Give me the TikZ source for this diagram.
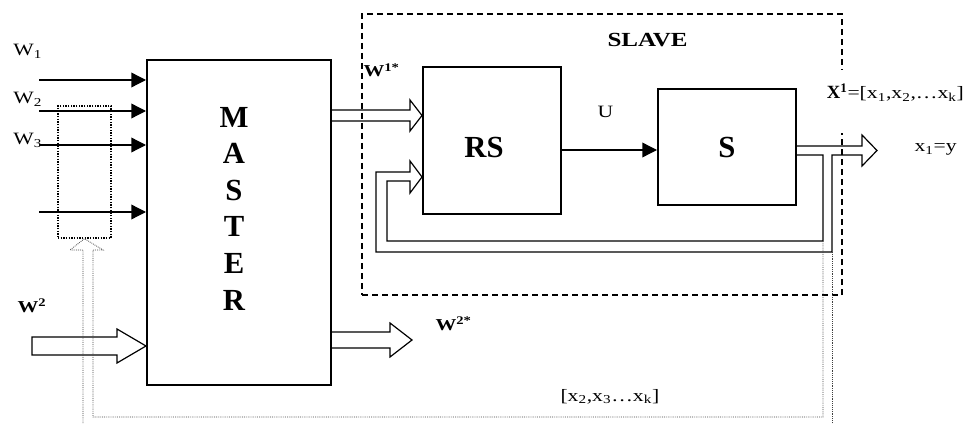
\documentclass[tikz,border=0pt]{standalone}
\usepackage{fontspec}
\setmainfont{Liberation Serif}
\newfontfamily\widefont[FakeStretch=1.25]{Liberation Serif}
\usetikzlibrary{arrows.meta}
\newcommand\blockfont{\fontsize{23}{26}\selectfont\bfseries}
\newcommand\labelfont{\fontsize{12.5}{15}\selectfont\widefont\bfseries}
\newcommand\sigfont{\fontsize{13}{15}\selectfont\widefont}
\tikzset{every picture/.style={line width=0.75pt}}

\begin{document}
\begin{tikzpicture}[x=0.75pt,y=0.75pt,yscale=-1,xscale=1,
  blockbox/.style={draw, line width=1.5pt, inner sep=0pt},
  inarrow/.style={line width=1pt, -{Triangle[length=11pt,width=11pt]}},
  hollowarrow/.style={line width=0.9pt, line join=miter},
  fbdots/.style={line width=0.6pt, dash pattern=on 0.6pt off 0.8pt, color=black!75}]
\path[use as bounding box] (0,0) rectangle (964,424);
%Shape: Rectangle (slave)
\node[draw, line width=1pt, dash pattern=on 4.5pt off 3pt, minimum width=360pt, minimum height=210.75pt] (slave) at (602,154.5) {};
%Shape: Rectangle (master)
\node[blockbox, minimum width=138pt, minimum height=243.75pt] (master) at (239,222.5) {};
%Shape: Rectangle (rs)
\node[blockbox, minimum width=103.5pt, minimum height=110.25pt] (rs) at (492,140.5) {};
%Shape: Rectangle (s)
\node[blockbox, minimum width=103.5pt, minimum height=87pt, font=\blockfont] (s) at (727,147) {S};
%Shape: Rectangle (window)
\node[draw, line width=1pt, densely dotted, minimum width=39.75pt, minimum height=99pt] (window) at (84.5,172) {};
% Text Node
\foreach \ch [count=\i] in {M,A,S,T,E,R}
  \node[font=\blockfont, inner sep=0pt] (master\i) at (234,80.5+36.6*\i) {\ch};
% Text Node
\node[font=\blockfont, inner sep=0pt] (rslabel) at (484,147) {RS};
%Straight Lines (inputs)
\coordinate (w1in) at (39,80);
\coordinate (w2in) at (39,111);
\coordinate (w3in) at (39,145);
\coordinate (w4in) at (39,212);
\draw[inarrow] (w1in) -- (w1in -| master.west);
\draw[inarrow] (w2in) -- (w2in -| master.west);
\draw[inarrow] (w3in) -- (w3in -| master.west);
\draw[inarrow] (w4in) -- (w4in -| master.west);
%Straight Lines (U)
\draw[inarrow] (rs.east |- 0,150) -- (s.west |- 0,150);
%Shape: Right Arrow (W2 in)
\draw[hollowarrow] (32,337) -- (117,337) -- (117,329) -- (master.west |- 0,346) -- (117,363) -- (117,355) -- (32,355) -- cycle;
%Shape: Right Arrow (W1* to RS)
\draw[hollowarrow] (master.east |- 0,110) -- (410,110) -- (410,100) -- (rs.west |- 0,115.5) -- (410,131) -- (410,121) -- (master.east |- 0,121);
%Shape: Right Arrow (W2* out)
\coordinate (w2out) at (412,340);
\draw[hollowarrow] (master.east |- 0,332) -- (390,332) -- (390,323) -- (w2out) -- (390,357) -- (390,348) -- (master.east |- 0,348);
%Shape: Right Arrow (S out and feedback to RS)
\coordinate (yout) at (877,150.5);
\draw[hollowarrow] (s.east |- 0,146) -- (862,146) -- (862,135) -- (yout) -- (862,166) -- (862,155) -- (832,155) -- (832,252) -- (376,252) -- (376,172) -- (410,172) -- (410,161) -- (rs.west |- 0,177) -- (410,193) -- (410,181) -- (387,181) -- (387,241) -- (823,241) -- (823,155) -- (s.east |- 0,155);
%Curve Lines (x2..xk back to window)
\draw[fbdots] (823,241) -- (823,417) -- (93,417) -- (93,250) -- (103,250) -- (window.south) -- (70,250) -- (83,250) -- (83,424);
\draw[fbdots] (832,252) -- (832,424);
% Text Node
\node[font=\sigfont, anchor=base west, inner sep=0pt] (w1label) at (13,56) {W\textsubscript{1}};
% Text Node
\node[font=\sigfont, anchor=base west, inner sep=0pt] (w2label) at (13,104) {W\textsubscript{2}};
% Text Node
\node[font=\sigfont, anchor=base west, inner sep=0pt] (w3label) at (13,145) {W\textsubscript{3}};
% Text Node
\node[font=\labelfont, anchor=base west, inner sep=0pt] (wtwo) at (17,312) {W\textsuperscript{2}};
% Text Node
\node[font=\labelfont, anchor=base west, inner sep=0pt] (wonestar) at (363,77) {W\textsuperscript{1*}};
% Text Node
\node[font=\labelfont, anchor=base west, inner sep=0pt] (wtwostar) at (435,330) {W\textsuperscript{2*}};
% Text Node
\node[font=\fontsize{15}{17}\selectfont\widefont\bfseries, anchor=base west, inner sep=0pt] (slavelabel) at (607,47) {SLAVE};
% Text Node
\node[font=\sigfont, anchor=base west, inner sep=0pt] (ulabel) at (597,118) {U};
% Text Node
\node[font=\sigfont, anchor=base west, fill=white, inner ysep=0pt, inner xsep=1pt, text height=21.75pt, text depth=25.5pt] (xonelabel) at (825,99) {{\normalfont\fontsize{14}{16}\selectfont\bfseries X\textsuperscript{1}}=[x\textsubscript{1},x\textsubscript{2},\ldots x\textsubscript{k}]};
% Text Node
\node[font=\sigfont, anchor=base west, inner sep=0pt] (ylabel) at (914,152) {x\textsubscript{1}=y};
% Text Node
\node[font=\sigfont, anchor=base west, inner sep=0pt] (restlabel) at (560,401) {[x\textsubscript{2},x\textsubscript{3}\ldots x\textsubscript{k}]};
\end{tikzpicture}
\end{document}
